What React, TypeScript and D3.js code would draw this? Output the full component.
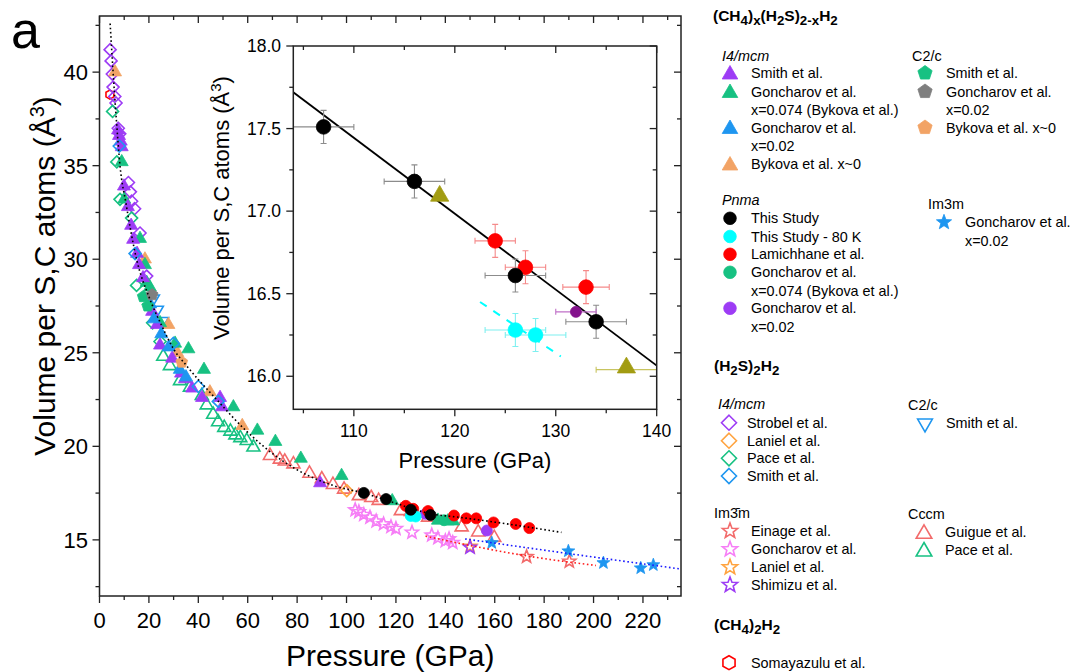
import React from "react";
import * as d3 from "d3";

type Row = number[]; // [pressure GPa, volume Å3, dP?, dV?]

// ---------- (CH4)x(H2S)2-xH2 ----------
// I4/mcm
const smithI4: Row[] = [
  [7.5, 36.9], [7.9, 36.6], [8.6, 36.3], [9.0, 36.0], [9.9, 33.9], [11.5, 32.8], [12.8, 31.8],
  [13.6, 31.05], [15.2, 30.3], [16, 29.7], [17.6, 29.0], [21.3, 27.2], [23.3, 26.5], [24.5, 25.4],
  [29.4, 24.7], [33, 23.9], [34.6, 23.6], [37.5, 23.1], [41.5, 22.6], [48.8, 22.6], [49.6, 22.1], [89.3, 18.04],
];
const goncharovI4x074: Row[] = [
  [9, 35.2], [10, 33.2], [16.4, 31.1], [18.4, 29.7], [19.1, 28.75], [20.4, 28.5], [24.5, 26.6],
  [30.6, 25.5], [36, 25.2], [42.3, 24.1], [54.2, 22.1], [63.9, 20.85], [71.2, 20.25], [81.5, 19.35],
  [98, 18.43], [118.5, 17.08], [137, 16.04, 3], [141, 16.0], [143.2, 16.0],
];
const goncharovI4x002: Row[] = [[20.5, 27.6], [22, 26.8], [25, 26.0], [28, 25.3], [32.5, 24.1], [35, 23.7]];
const bykovaI4: Row[] = [[6.3, 40.0], [18.4, 30.0], [27.9, 26.5], [31.5, 25.0], [44.7, 22.9], [57.8, 21.1]];
// C2/c
const smithC2c: Row[] = [[17.7, 28.0], [19.5, 27.5]];
const goncharovC2c: Row[] = [[21.3, 28.1]];
const bykovaC2c: Row[] = [[33.3, 24.5]];
// Pnma
const thisStudy: Row[] = [[107, 17.51, 3, 0.1], [116, 17.18, 3, 0.1], [126, 16.61, 3, 0.1], [134, 16.33, 3, 0.1]];
const thisStudy80K: Row[] = [[126, 16.28, 3, 0.1], [128, 16.25, 3, 0.1]];
const lamichhane: Row[] = [
  [124, 16.82, 2, 0.1], [127, 16.66, 2, 0.1], [133, 16.54, 2.3, 0.1], [143.5, 16.3, 1.5, 0.05],
  [148.5, 16.15, 1.5, 0.05], [152.5, 16.15, 1.5, 0.05], [159.5, 15.93, 1.5, 0.05], [168.5, 15.85, 1.5, 0.05],
  [174, 15.63, 1.5, 0.05],
];
const goncharovPnma074: Row[] = [[139.5, 16.05]];
const goncharovPnma002: Row[] = [[132, 16.39, 2, 0], [156.8, 15.5]];
// Im3m
const goncharovIm3m: Row[] = [[158.8, 14.84], [189.8, 14.4], [204, 13.77], [219.1, 13.49], [224.2, 13.66]];

// ---------- (H2S)2H2 ----------
const strobelI4: Row[] = [
  [4.3, 41.2], [4.7, 40.6], [5.2, 39.9], [5.5, 39.2], [6.2, 38.7], [6.7, 38.35], [7.6, 37.0], [8.2, 36.7],
  [11.7, 34.1], [12.5, 33.6], [13, 33.1], [14.2, 32.7], [16.4, 31.4], [19.1, 29.1],
];
const lanielI4: Row[] = [[100.1, 17.63]];
const paceI4: Row[] = [[5.3, 37.9], [7, 35.2], [8.3, 33.2], [13, 32.2], [15, 28.6], [21.5, 26.6], [24.5, 25.6]];
const smithI4H2S: Row[] = [[8, 36.05], [14.4, 30.3], [29.9, 25.5], [40, 23.2], [48.1, 22.4]];
const smithC2cH2S: Row[] = [[21.8, 27.9], [23.4, 27.3], [25.5, 26.7]];
const einagaIm3m: Row[] = [[172.9, 14.1], [190.2, 13.85]];
const goncharovIm3mH2S: Row[] = [
  [103.5, 16.6], [105, 16.5], [107, 16.35], [109.5, 16.2], [112, 16.0], [115, 15.85], [118, 15.7],
  [120, 15.6], [126.5, 15.4], [134.5, 15.25], [137, 15.1], [140, 14.95], [141.5, 15.05], [143, 14.85],
];
const lanielIm3m: Row[] = [[150, 14.65]];
const shimizuIm3m: Row[] = [[150, 14.6]];
const guigueCccm: Row[] = [
  [69, 19.5], [73, 19.3], [75, 19.2], [78.5, 19.05], [85, 18.55], [90, 18.25], [94.5, 17.95], [99, 17.7],
  [105, 17.35], [110, 17.25], [113, 17.1], [122, 16.55], [126, 16.5], [133, 16.2], [146.6, 15.68],
  [153.3, 15.41], [159.8, 15.12],
];
const paceCccm: Row[] = [
  [25.8, 24.8], [28.5, 24.3], [32.6, 23.5], [36.6, 23.15], [41.4, 22.7], [43.4, 22.2], [46, 21.7],
  [48, 21.3], [50.5, 21.0], [53, 20.8], [55, 20.6], [57, 20.45], [59.6, 20.3], [62.3, 19.95],
];
// ---------- (CH4)2H2 ----------
const somayazulu: Row[] = [[4.2, 38.8]];

// ---------- EOS curves ----------
const eosBlack: Row[] = [
  [4.3, 42.6], [5.5, 40], [6.8, 37.5], [8.3, 35], [10.7, 33], [15, 30], [20, 28], [25, 26.5], [30, 25.2],
  [35.3, 24.3], [47.4, 22.5], [59.6, 20.8], [74.4, 19.2], [94.7, 17.9], [107, 17.5], [120, 16.95],
  [134, 16.4], [146, 16.2], [160, 15.95], [187, 15.4],
];
const eosBlue: Row[] = [[148, 15.05], [180, 14.45], [210, 13.9], [236, 13.43]];
const eosRed: Row[] = [[132, 15.2], [150, 14.7], [175, 14.1], [201, 13.63]];
// inset fits
const insetFit: Row[] = [[104, 17.72], [140, 16.065]];
const insetFit80K: Row[] = [[122.5, 16.45], [130.5, 16.12]];

// ticks
const xMain = [0, 20, 40, 60, 80, 100, 120, 140, 160, 180, 200, 220];
const yMain = [15, 20, 25, 30, 35, 40];
const xInset = [110, 120, 130, 140];
const yInset = ["16.0", "16.5", "17.0", "17.5", "18.0"];

// colours
const PURPLE = "#9d3cf5", GREEN = "#17c182", BLUE = "#1e96f0", ORANGE = "#f2a365", GREY = "#7f7f7f";
const SALMON = "#f26b6b", PINK = "#f67ef6", LORANGE = "#ffa33f", RED = "#ff0000", CYAN = "#00ffff";
const OLIVE = "#a29c12", DPURPLE = "#84128c";
const FONT = "'Liberation Sans', Arial, sans-serif";

type Shape = "circle" | "tri" | "tridown" | "diamond" | "pent" | "hex" | "star";

const SIZE: Record<Shape, number> = { circle: 5.5, tri: 7.5, tridown: 7, diamond: 6, pent: 6.2, hex: 4.5, star: 6.8 };

function markerPath(shape: Shape, r: number): string {
  const line = d3.line();
  const poly = (n: number, rr: number, rot = -Math.PI / 2) =>
    line(d3.range(n).map((i) => [rr * Math.cos(rot + (i * 2 * Math.PI) / n), rr * Math.sin(rot + (i * 2 * Math.PI) / n)] as [number, number])) + "Z";
  switch (shape) {
    case "circle":
      return d3.symbol(d3.symbolCircle, Math.PI * r * r)() as string;
    case "tri":
      return poly(3, r);
    case "tridown":
      return poly(3, r, Math.PI / 2);
    case "diamond":
      return poly(4, r);
    case "pent":
      return poly(5, r);
    case "hex":
      return poly(6, r);
    case "star":
      return line(d3.range(10).map((i) => {
        const a = -Math.PI / 2 + (i * Math.PI) / 5;
        const rr = i % 2 ? r * 0.42 : r;
        return [rr * Math.cos(a), rr * Math.sin(a)] as [number, number];
      })) + "Z";
  }
}

type S = { data: Row[]; shape: Shape; color: string; filled: boolean; err?: string };

const SERIES: S[] = [
  { data: somayazulu, shape: "hex", color: RED, filled: false },
  { data: paceCccm, shape: "tri", color: GREEN, filled: false },
  { data: guigueCccm, shape: "tri", color: SALMON, filled: false },
  { data: goncharovIm3mH2S, shape: "star", color: PINK, filled: false },
  { data: einagaIm3m, shape: "star", color: SALMON, filled: false },
  { data: lanielIm3m, shape: "star", color: LORANGE, filled: false },
  { data: shimizuIm3m, shape: "star", color: PURPLE, filled: false },
  { data: strobelI4, shape: "diamond", color: PURPLE, filled: false },
  { data: paceI4, shape: "diamond", color: GREEN, filled: false },
  { data: lanielI4, shape: "diamond", color: LORANGE, filled: false },
  { data: smithC2cH2S, shape: "tridown", color: BLUE, filled: false },
  { data: bykovaI4, shape: "tri", color: ORANGE, filled: true },
  { data: goncharovI4x074, shape: "tri", color: GREEN, filled: true },
  { data: smithI4, shape: "tri", color: PURPLE, filled: true },
  { data: goncharovI4x002, shape: "tri", color: BLUE, filled: true },
  { data: smithI4H2S, shape: "diamond", color: BLUE, filled: false },
  { data: smithC2c, shape: "pent", color: GREEN, filled: true },
  { data: goncharovC2c, shape: "pent", color: GREY, filled: true },
  { data: bykovaC2c, shape: "pent", color: ORANGE, filled: true },
  { data: goncharovPnma074, shape: "circle", color: GREEN, filled: true },
  { data: goncharovPnma002, shape: "circle", color: PURPLE, filled: true },
  { data: goncharovIm3m, shape: "star", color: BLUE, filled: true },
  { data: lamichhane, shape: "circle", color: RED, filled: true, err: "#f58a8a" },
  { data: thisStudy80K, shape: "circle", color: CYAN, filled: true, err: "#7ff0f0" },
  { data: thisStudy, shape: "circle", color: "#000", filled: true, err: "#8c8c8c" },
];

function Mark({ shape, color, filled, r, cx, cy }: { shape: Shape; color: string; filled: boolean; r: number; cx: number; cy: number }) {
  return (
    <path
      d={markerPath(shape, r)}
      transform={`translate(${cx},${cy})`}
      fill={filled ? color : "none"}
      stroke={color}
      strokeWidth={filled ? 0.8 : 1.6}
    />
  );
}

function ErrBars({ rows, color, xs, ys }: { rows: Row[]; color: string; xs: d3.ScaleLinear<number, number>; ys: d3.ScaleLinear<number, number> }) {
  return (
    <g stroke={color} strokeWidth={1.1} fill="none">
      {rows.map((d, i) => {
        const cx = xs(d[0]), cy = ys(d[1]);
        const out: JSX.Element[] = [];
        if (d[2]) {
          const a = xs(d[0] - d[2]), b = xs(d[0] + d[2]);
          out.push(<path key="h" d={`M${a},${cy}H${b}M${a},${cy - 3}V${cy + 3}M${b},${cy - 3}V${cy + 3}`} />);
        }
        if (d[3]) {
          const a = ys(d[1] - d[3]), b = ys(d[1] + d[3]);
          out.push(<path key="v" d={`M${cx},${a}V${b}M${cx - 3},${a}H${cx + 3}M${cx - 3},${b}H${cx + 3}`} />);
        }
        return <g key={i}>{out}</g>;
      })}
    </g>
  );
}

type Seg = [string, number?]; // text, 1 = subscript
function Rich({ x, y, segs, size, weight }: { x: number; y: number; segs: Seg[]; size: number; weight?: string }) {
  let shift = 0;
  return (
    <text x={x} y={y} fontSize={size} fontWeight={weight} fontFamily={FONT} fill="#000">
      {segs.map(([t, sub], i) => {
        const target = sub ? 4 : 0;
        const dy = target - shift;
        shift = target;
        return (
          <tspan key={i} dy={dy} fontSize={sub ? size * 0.86 : size}>
            {t}
          </tspan>
        );
      })}
    </text>
  );
}

type LegItem = { shape: Shape; color: string; filled: boolean; lines: string[]; y: number };
type LegGroup = { head: string; italic: boolean; hx: number; hy: number; mx: number; tx: number; items: LegItem[] };

const legendGroups: LegGroup[] = [
  { head: "I4/mcm", italic: true, hx: 722, hy: 61, mx: 730, tx: 751, items: [
    { shape: "tri", color: PURPLE, filled: true, lines: ["Smith et al."], y: 73 },
    { shape: "tri", color: GREEN, filled: true, lines: ["Goncharov et al.", "x=0.074 (Bykova et al.)"], y: 91.5 },
    { shape: "tri", color: BLUE, filled: true, lines: ["Goncharov et al.", "x=0.02"], y: 127.5 },
    { shape: "tri", color: ORANGE, filled: true, lines: ["Bykova et al. x~0"], y: 164 },
  ] },
  { head: "C2/c", italic: false, hx: 912, hy: 61, mx: 925, tx: 946, items: [
    { shape: "pent", color: GREEN, filled: true, lines: ["Smith et al."], y: 73 },
    { shape: "pent", color: GREY, filled: true, lines: ["Goncharov et al.", "x=0.02"], y: 91.5 },
    { shape: "pent", color: ORANGE, filled: true, lines: ["Bykova et al. x~0"], y: 127.5 },
  ] },
  { head: "Pnma", italic: true, hx: 722, hy: 205, mx: 730, tx: 751, items: [
    { shape: "circle", color: "#000", filled: true, lines: ["This Study"], y: 218.3 },
    { shape: "circle", color: CYAN, filled: true, lines: ["This Study - 80 K"], y: 236.5 },
    { shape: "circle", color: RED, filled: true, lines: ["Lamichhane et al."], y: 254.3 },
    { shape: "circle", color: GREEN, filled: true, lines: ["Goncharov et al.", "x=0.074 (Bykova et al.)"], y: 272.3 },
    { shape: "circle", color: PURPLE, filled: true, lines: ["Goncharov et al.", "x=0.02"], y: 308.3 },
  ] },
  { head: "Im3m", italic: false, hx: 928, hy: 209, mx: 944, tx: 965, items: [
    { shape: "star", color: BLUE, filled: true, lines: ["Goncharov et al.", "x=0.02"], y: 222.3 },
  ] },
  { head: "I4/mcm", italic: true, hx: 718, hy: 409, mx: 729, tx: 747, items: [
    { shape: "diamond", color: PURPLE, filled: false, lines: ["Strobel et al."], y: 422.7 },
    { shape: "diamond", color: LORANGE, filled: false, lines: ["Laniel et al."], y: 440.7 },
    { shape: "diamond", color: GREEN, filled: false, lines: ["Pace et al."], y: 458.3 },
    { shape: "diamond", color: BLUE, filled: false, lines: ["Smith et al."], y: 476 },
  ] },
  { head: "C2/c", italic: false, hx: 908, hy: 410, mx: 925, tx: 946, items: [
    { shape: "tridown", color: BLUE, filled: false, lines: ["Smith et al."], y: 423.3 },
  ] },
  { head: "Im3\u0304m", italic: false, hx: 714, hy: 518, mx: 730, tx: 751, items: [
    { shape: "star", color: SALMON, filled: false, lines: ["Einage et al."], y: 531 },
    { shape: "star", color: PINK, filled: false, lines: ["Goncharov et al."], y: 549.3 },
    { shape: "star", color: LORANGE, filled: false, lines: ["Laniel et al."], y: 567.3 },
    { shape: "star", color: PURPLE, filled: false, lines: ["Shimizu et al."], y: 585 },
  ] },
  { head: "Cccm", italic: false, hx: 908, hy: 519, mx: 924, tx: 945, items: [
    { shape: "tri", color: SALMON, filled: false, lines: ["Guigue et al."], y: 532.3 },
    { shape: "tri", color: GREEN, filled: false, lines: ["Pace et al."], y: 550 },
  ] },
  { head: "", italic: false, hx: 714, hy: 0, mx: 729, tx: 751, items: [
    { shape: "hex", color: RED, filled: false, lines: ["Somayazulu et al."], y: 662.7 },
  ] },
];

const LEG_R: Record<Shape, number> = { circle: 6.3, tri: 9, tridown: 8.5, diamond: 7.5, pent: 7.5, hex: 7, star: 8 };

export default function App() {
  // main panel
  const M = { l: 99.5, t: 16, r: 681, b: 596 };
  const x = d3.scaleLinear().domain([0, 235.4]).range([M.l, M.r]);
  const y = d3.scaleLinear().domain([12, 43]).range([M.b, M.t]);
  // inset
  const I = { l: 293.3, t: 46, r: 656.7, b: 409.3 };
  const xi = d3.scaleLinear().domain([104, 140]).range([I.l, I.r]);
  const yi = d3.scaleLinear().domain([15.8, 18.0]).range([I.b, I.t]);

  const lineMono = (xs: d3.ScaleLinear<number, number>, ys: d3.ScaleLinear<number, number>) =>
    d3.line<Row>().x((d) => xs(d[0])).y((d) => ys(d[1])).curve(d3.curveMonotoneX);

  const xMinor = d3.range(0, 236, 10);
  const yMinor = d3.range(12.5, 43, 2.5);
  const xiMinor = d3.range(105, 140.1, 5);
  const yiMinor = d3.range(15.75, 18.01, 0.25).filter((v) => v >= 15.8);

  const tickStroke = { stroke: "#222", strokeWidth: 1.3 };

  return (
    <svg width={1072} height={672} style={{ position: "absolute", left: 0, top: 0, background: "#fff" }}>
      <defs>
        <clipPath id="mainClip"><rect x={M.l} y={M.t} width={M.r - M.l} height={M.b - M.t} /></clipPath>
        <clipPath id="insetClip"><rect x={I.l} y={I.t} width={I.r - I.l} height={I.b - I.t} /></clipPath>
      </defs>
      <rect width={1072} height={672} fill="#fff" />

      <text x={11} y={48} fontSize={52} fontFamily={FONT}>a</text>

      {/* main data */}
      <g clipPath="url(#mainClip)">
        {SERIES.map((s, k) => (
          <g key={k}>
            {s.err && (s.data === lamichhane || s.data === thisStudy) && (
              <ErrBars rows={s.data.map((d) => [d[0], d[1], d[2] ? 1.3 : 0, 0])} color={s.err} xs={x} ys={y} />
            )}
            {s.data.map((d, i) => (
              <Mark key={i} shape={s.shape} color={s.color} filled={s.filled} r={SIZE[s.shape]} cx={x(d[0])} cy={y(d[1])} />
            ))}
          </g>
        ))}
        <path d={lineMono(x, y)(eosBlack) as string} fill="none" stroke="#000" strokeWidth={1.6} strokeDasharray="1.6,2.6" />
        <path d={lineMono(x, y)(eosBlue) as string} fill="none" stroke="#1a1aff" strokeWidth={1.6} strokeDasharray="1.6,2.6" />
        <path d={lineMono(x, y)(eosRed) as string} fill="none" stroke="#ff1a1a" strokeWidth={1.6} strokeDasharray="1.6,2.6" />
      </g>

      {/* main axes */}
      <rect x={M.l} y={M.t} width={M.r - M.l} height={M.b - M.t} fill="none" stroke="#222" strokeWidth={1.5} />
      <g {...tickStroke}>
        {xMinor.map((v) => {
          const big = v % 20 === 0;
          const L = big ? 7 : 4;
          return (
            <g key={v}>
              <line x1={x(v)} x2={x(v)} y1={M.b} y2={M.b + L} />
              <line x1={x(v)} x2={x(v)} y1={M.t} y2={M.t + L} />
            </g>
          );
        })}
        {yMinor.map((v) => {
          const big = v % 5 === 0;
          const L = big ? 7 : 4;
          return (
            <g key={v}>
              <line x1={M.l - L} x2={M.l} y1={y(v)} y2={y(v)} />
              <line x1={M.r - L} x2={M.r} y1={y(v)} y2={y(v)} />
            </g>
          );
        })}
      </g>
      <g fontFamily={FONT} fontSize={22} fill="#000">
        {xMain.map((v) => (
          <text key={v} x={x(v)} y={628} textAnchor="middle">{v}</text>
        ))}
        {yMain.map((v) => (
          <text key={v} x={88} y={y(v) + 8} textAnchor="end">{v}</text>
        ))}
      </g>
      <text x={(M.l + M.r) / 2} y={666} textAnchor="middle" fontFamily={FONT} fontSize={30}>Pressure (GPa)</text>
      <text transform="translate(55,276) rotate(-90)" textAnchor="middle" fontFamily={FONT} fontSize={30}>
        Volume per S,C atoms (Å<tspan dy={-11} fontSize={20}>3</tspan><tspan dy={11}>)</tspan>
      </text>

      {/* inset */}
      <rect x={I.l} y={I.t} width={I.r - I.l} height={I.b - I.t} fill="#fff" />
      <g clipPath="url(#insetClip)">
        <path d={d3.line<Row>().x((d) => xi(d[0])).y((d) => yi(d[1]))(insetFit) as string} stroke="#000" strokeWidth={1.8} fill="none" />
        <path d={d3.line<Row>().x((d) => xi(d[0])).y((d) => yi(d[1]))(insetFit80K) as string} stroke={CYAN} strokeWidth={2} fill="none" strokeDasharray="8,8" />
        <ErrBars rows={thisStudy} color="#8c8c8c" xs={xi} ys={yi} />
        <ErrBars rows={lamichhane} color="#f58a8a" xs={xi} ys={yi} />
        <ErrBars rows={thisStudy80K} color="#7ff0f0" xs={xi} ys={yi} />
        <ErrBars rows={goncharovPnma002.slice(0, 1)} color="#c070c8" xs={xi} ys={yi} />
        <ErrBars rows={goncharovI4x074.filter((d) => d[2])} color="#c8c460" xs={xi} ys={yi} />
        {goncharovI4x074.filter((d) => d[0] > 104 && d[0] < 140).map((d, i) => (
          <Mark key={"o" + i} shape="tri" color={OLIVE} filled r={10.5} cx={xi(d[0])} cy={yi(d[1]) - 2} />
        ))}
        {lamichhane.filter((d) => d[0] < 140).map((d, i) => (
          <Mark key={"r" + i} shape="circle" color={RED} filled r={7.3} cx={xi(d[0])} cy={yi(d[1])} />
        ))}
        {thisStudy80K.map((d, i) => (
          <Mark key={"c" + i} shape="circle" color={CYAN} filled r={7.3} cx={xi(d[0])} cy={yi(d[1])} />
        ))}
        {thisStudy.map((d, i) => (
          <Mark key={"b" + i} shape="circle" color="#000" filled r={7.3} cx={xi(d[0])} cy={yi(d[1])} />
        ))}
        <Mark shape="circle" color={DPURPLE} filled r={5.5} cx={xi(goncharovPnma002[0][0])} cy={yi(goncharovPnma002[0][1])} />
      </g>
      <rect x={I.l} y={I.t} width={I.r - I.l} height={I.b - I.t} fill="none" stroke="#222" strokeWidth={1.5} />
      <g {...tickStroke}>
        {xiMinor.map((v) => {
          const L = v % 10 === 0 ? 7 : 4;
          return (
            <g key={v}>
              <line x1={xi(v)} x2={xi(v)} y1={I.b} y2={I.b + L} />
              <line x1={xi(v)} x2={xi(v)} y1={I.t} y2={I.t + L} />
            </g>
          );
        })}
        {yiMinor.map((v) => {
          const L = Math.abs(v * 2 - Math.round(v * 2)) < 1e-6 ? 7 : 4;
          return (
            <g key={v}>
              <line x1={I.l - L} x2={I.l} y1={yi(v)} y2={yi(v)} />
              <line x1={I.r - L} x2={I.r} y1={yi(v)} y2={yi(v)} />
            </g>
          );
        })}
      </g>
      <g fontFamily={FONT} fontSize={17.5} fill="#000">
        {xInset.map((v) => (
          <text key={v} x={xi(v)} y={437} textAnchor="middle">{v}</text>
        ))}
        {yInset.map((v) => (
          <text key={v} x={281} y={yi(+v) + 6} textAnchor="end">{v}</text>
        ))}
      </g>
      <text x={(I.l + I.r) / 2} y={468} textAnchor="middle" fontFamily={FONT} fontSize={22}>Pressure (GPa)</text>
      <text transform="translate(229,208) rotate(-90)" textAnchor="middle" fontFamily={FONT} fontSize={22}>
        Volume per S,C atoms (Å<tspan dy={-8} fontSize={15}>3</tspan><tspan dy={8}>)</tspan>
      </text>

      {/* legend */}
      <Rich x={713} y={21} size={15.5} weight="bold" segs={[["(CH"], ["4", 1], [")"], ["x", 1], ["(H"], ["2", 1], ["S)"], ["2-x", 1], ["H"], ["2", 1]]} />
      <Rich x={714} y={371} size={15.5} weight="bold" segs={[["(H"], ["2", 1], ["S)"], ["2", 1], ["H"], ["2", 1]]} />
      <Rich x={714} y={630} size={15.5} weight="bold" segs={[["(CH"], ["4", 1], [")"], ["2", 1], ["H"], ["2", 1]]} />
      <g fontFamily={FONT} fontSize={14.4} fill="#000">
        {legendGroups.map((g, gi) => (
          <g key={gi}>
            {g.head && (
              <text x={g.hx} y={g.hy} fontStyle={g.italic ? "italic" : "normal"}>{g.head}</text>
            )}
            {g.items.map((it, ii) => (
              <g key={ii}>
                <Mark shape={it.shape} color={it.color} filled={it.filled} r={LEG_R[it.shape]} cx={g.mx} cy={it.y + (it.shape === "tri" ? 1.5 : 0)} />
                {it.lines.map((ln, li) => (
                  <text key={li} x={g.tx} y={it.y + 5 + li * 18.2}>{ln}</text>
                ))}
              </g>
            ))}
          </g>
        ))}
      </g>
    </svg>
  );
}
